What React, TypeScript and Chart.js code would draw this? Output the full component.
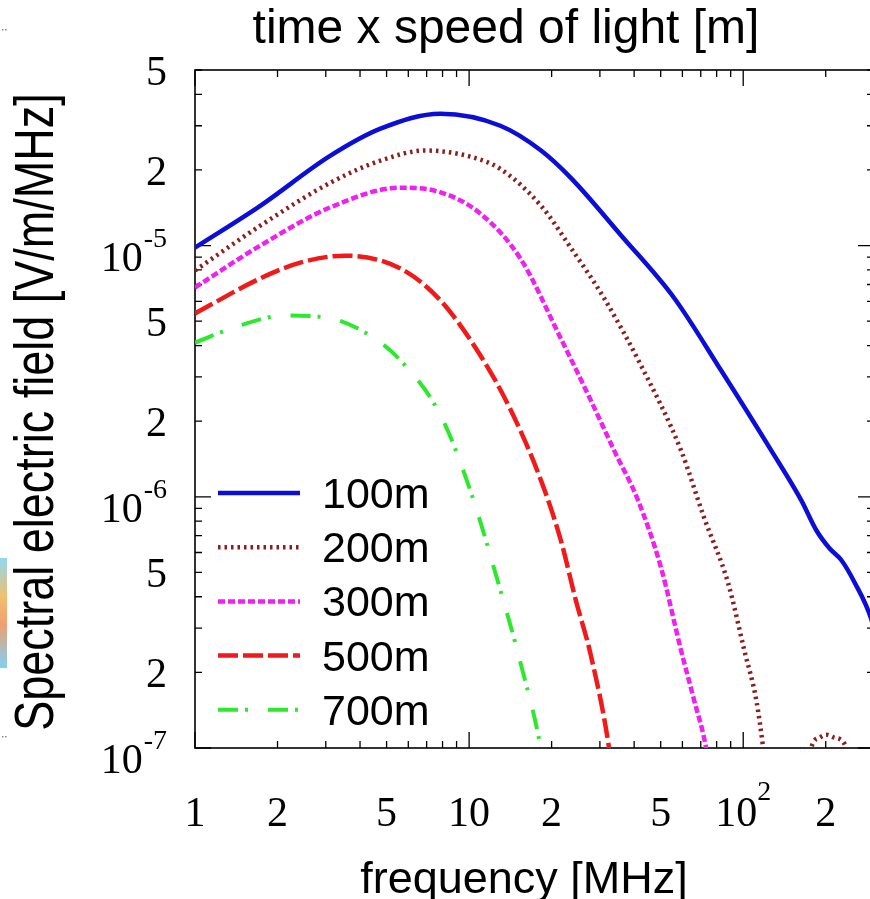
import React, { useEffect, useRef } from "react";
import { Chart, registerables } from "chart.js";

Chart.register(...registerables);

// ---- data (frequency in MHz, spectral field in V/m/MHz) ----
const freq100 = [1, 1.73, 3.12, 4.75, 7.87, 13.0, 18.3, 23.5, 35.8, 55.9, 83.1, 126.5, 162.9, 184.8, 206.3, 228.2, 254.6, 294, 300];
const field100 = [9.82e-6, 1.44e-5, 2.28e-5, 2.92e-5, 3.35e-5, 3.0e-5, 2.39e-5, 1.86e-5, 1.1e-5, 6.2e-6, 3.18e-6, 1.53e-6, 9.68e-7, 7.36e-7, 6.24e-7, 5.59e-7, 4.57e-7, 3.23e-7, 2.95e-7];

const freq200 = [1, 1.73, 3.12, 4.75, 6.93, 10.1, 13.0, 18.3, 23.5, 31.0, 42.4, 59.3, 71.9, 88.1, 100.9, 111.6, 118.3, 125, 150, 177, 190, 201, 215, 238, 260, 300];
const field200 = [7.96e-6, 1.2e-5, 1.78e-5, 2.18e-5, 2.39e-5, 2.26e-5, 2.02e-5, 1.44e-5, 9.8e-6, 6.2e-6, 3.33e-6, 1.53e-6, 8.29e-7, 4.53e-7, 2.45e-7, 1.55e-7, 1.0e-7, 6e-8, 2e-8, 1.0e-7, 1.1e-7, 1.13e-7, 1.1e-7, 1.0e-7, 4e-8, 2e-8];

const freq300 = [1, 1.73, 3.12, 5.62, 7.87, 11.0, 15.4, 21.6, 27.8, 33.8, 41.3, 50.1, 59.3, 66.2, 73.2, 80];
const field300 = [6.81e-6, 1.0e-5, 1.42e-5, 1.7e-5, 1.63e-5, 1.34e-5, 8.87e-6, 4.27e-6, 2.42e-6, 1.53e-6, 9.7e-7, 5.24e-7, 2.45e-7, 1.55e-7, 1.0e-7, 5e-8];

const freq500 = [1, 1.73, 2.42, 3.54, 5.62, 7.87, 11.0, 14.2, 18.3, 21.6, 24.5, 27.8, 32.4, 35];
const field500 = [5.37e-6, 7.4e-6, 8.55e-6, 9.12e-6, 8.1e-6, 6.04e-6, 3.65e-6, 2.21e-6, 1.16e-6, 6.72e-7, 3.88e-7, 2.34e-7, 1.0e-7, 5e-8];

const freq700 = [1, 1.46, 2.13, 3.12, 4.36, 5.62, 7.87, 10.1, 13.0, 15.4, 18.3, 19.5];
const field700 = [4.11e-6, 4.81e-6, 5.27e-6, 5.13e-6, 4.38e-6, 3.49e-6, 2.11e-6, 1.06e-6, 4.25e-7, 2.18e-7, 9.8e-8, 6e-8];

const seriesLabels = ["100m", "200m", "300m", "500m", "700m"];
const seriesColors = ["#0c0ed8", "#8a1f1f", "#f020f0", "#f01a1a", "#2ee82e"];
const seriesDashes: number[][] = [[], [2.5, 4], [7, 3], [20, 5], [20, 7, 3, 20]];
const seriesWidths = [4.5, 4.5, 4.5, 4.5, 4];

const X_MIN = 1;
const X_MAX = 300;
const Y_MIN = 1e-7;
const Y_MAX = 5e-5;

const xTickValues = [1, 2, 5, 10, 20, 50, 100, 200];
const xTickLabels = ["1", "2", "5", "10", "2", "5", "10^2", "2"];
const yTickValues = [5e-5, 2e-5, 1e-5, 5e-6, 2e-6, 1e-6, 5e-7, 2e-7, 1e-7];
const yTickLabels = ["5", "2", "10^-5", "5", "2", "10^-6", "5", "2", "10^-7"];

const titleText = "time x speed of light [m]";
const xTitle = "frequency [MHz]";
const yTitle = "Spectral electric field [V/m/MHz]";

const SERIF = "'Liberation Serif', 'Times New Roman', serif";
const SANS = "'Liberation Sans', Arial, sans-serif";

const decorPlugin = {
  id: "decor",
  beforeDatasetsDraw(chart: any) {
    const { ctx, chartArea: a, scales } = chart;
    const xs = scales.x;
    const ys = scales.y;
    ctx.save();
    ctx.strokeStyle = "#000";
    ctx.lineWidth = 1.6;
    ctx.setLineDash([]);
    ctx.strokeRect(a.left, a.top, a.right - a.left, a.bottom - a.top);
    ctx.lineWidth = 1.3;
    ctx.beginPath();
    for (let e = -7; e <= -5; e++) {
      for (let m = 1; m <= 9; m++) {
        const v = m * Math.pow(10, e);
        if (v > Y_MAX * 1.001 || v < Y_MIN * 0.999) continue;
        const y = ys.getPixelForValue(v);
        const len = m === 1 ? 16 : 7;
        ctx.moveTo(a.left, y);
        ctx.lineTo(a.left + len, y);
        ctx.moveTo(a.right, y);
        ctx.lineTo(a.right - len, y);
      }
    }
    for (let e = 0; e <= 2; e++) {
      for (let m = 1; m <= 9; m++) {
        const v = m * Math.pow(10, e);
        if (v > X_MAX * 1.001) continue;
        const x = xs.getPixelForValue(v);
        const len = m === 1 ? 16 : 7;
        ctx.moveTo(x, a.bottom);
        ctx.lineTo(x, a.bottom - len);
        ctx.moveTo(x, a.top);
        ctx.lineTo(x, a.top + len);
      }
    }
    ctx.stroke();
    ctx.restore();
  },
  afterDraw(chart: any) {
    const { ctx, scales } = chart;
    const xs = scales.x;
    const ys = scales.y;
    ctx.save();
    ctx.fillStyle = "#000";
    ctx.textBaseline = "alphabetic";
    const baseFont = "42px " + SERIF;
    const expFont = "28px " + SERIF;

    // y tick labels
    const yRight = 167;
    yTickValues.forEach((v, i) => {
      const y = ys.getPixelForValue(v);
      const lab = yTickLabels[i];
      ctx.textAlign = "right";
      if (lab.includes("^")) {
        const [base, exp] = lab.split("^");
        ctx.font = expFont;
        const ew = ctx.measureText(exp).width;
        ctx.fillText(exp, yRight, y + 1);
        ctx.font = baseFont;
        ctx.fillText(base, yRight - ew - 1, y + 25);
      } else {
        ctx.font = baseFont;
        ctx.fillText(lab, yRight, y + 15);
      }
    });

    // x tick labels
    const xBase = 826;
    xTickValues.forEach((v, i) => {
      const x = xs.getPixelForValue(v);
      const lab = xTickLabels[i];
      if (lab.includes("^")) {
        const [base, exp] = lab.split("^");
        ctx.font = baseFont;
        const bw = ctx.measureText(base).width;
        ctx.font = expFont;
        const ew = ctx.measureText(exp).width;
        const start = x - (bw + ew) / 2;
        ctx.textAlign = "left";
        ctx.font = baseFont;
        ctx.fillText(base, start, xBase);
        ctx.font = expFont;
        ctx.fillText(exp, start + bw, xBase - 26);
      } else {
        ctx.textAlign = "center";
        ctx.font = baseFont;
        ctx.fillText(lab, x, xBase);
      }
    });

    // titles
    ctx.font = "48px " + SANS;
    ctx.textAlign = "center";
    ctx.fillText(titleText, 506, 43);
    ctx.font = "45px " + SANS;
    ctx.fillText(xTitle, 524, 893);
    ctx.save();
    ctx.translate(53, 412);
    ctx.rotate(-Math.PI / 2);
    ctx.scale(1, 1.22);
    ctx.fillText(yTitle, 0, 0);
    ctx.restore();

    // legend
    const lx0 = 218;
    const lx1 = 300;
    const ly0 = 493;
    const lstep = 54.2;
    ctx.font = "43px " + SANS;
    ctx.textAlign = "left";
    seriesLabels.forEach((lab, i) => {
      const y = ly0 + i * lstep;
      ctx.save();
      ctx.strokeStyle = seriesColors[i];
      ctx.lineWidth = seriesWidths[i];
      ctx.lineCap = "butt";
      ctx.setLineDash(seriesDashes[i]);
      ctx.beginPath();
      ctx.moveTo(lx0, y);
      ctx.lineTo(lx1, y);
      ctx.stroke();
      ctx.restore();
      ctx.fillStyle = "#000";
      ctx.fillText(lab, 322, y + 15);
    });

    // fragment of the neighbouring figure at the left edge
    const g = ctx.createLinearGradient(0, 558, 0, 668);
    g.addColorStop(0, "#8fd8f0");
    g.addColorStop(0.35, "#f0c070");
    g.addColorStop(0.6, "#f0a070");
    g.addColorStop(1, "#7fd0f4");
    ctx.fillStyle = g;
    ctx.fillRect(0, 558, 7, 110);
    ctx.fillStyle = "#888";
    ctx.fillRect(2, 29, 1.5, 1.5);
    ctx.fillRect(5, 29, 1.5, 1.5);
    ctx.fillRect(2, 736, 1.5, 1.5);
    ctx.fillRect(5, 736, 1.5, 1.5);
    ctx.restore();
  },
};

function makeData(xs: number[], ys: number[]) {
  return xs.map((x, i) => ({ x, y: ys[i] }));
}

export default function App() {
  const ref = useRef<HTMLCanvasElement | null>(null);
  useEffect(() => {
    document.body.style.margin = "0";
    const allX = [freq100, freq200, freq300, freq500, freq700];
    const allY = [field100, field200, field300, field500, field700];
    const datasets = seriesLabels.map((label, i) => ({
      label,
      data: makeData(allX[i], allY[i]),
      borderColor: seriesColors[i],
      backgroundColor: seriesColors[i],
      borderWidth: seriesWidths[i],
      borderDash: seriesDashes[i],
      borderCapStyle: "butt" as const,
      pointRadius: 0,
      fill: false,
      cubicInterpolationMode: "monotone" as const,
      clip: 0,
    }));
    const chart = new Chart(ref.current as HTMLCanvasElement, {
      type: "line",
      data: { datasets },
      options: {
        responsive: false,
        animation: false,
        devicePixelRatio: 1,
        events: [],
        layout: { padding: { left: 195, top: 70, right: 6, bottom: 151 } },
        scales: {
          x: { type: "logarithmic", min: X_MIN, max: X_MAX, display: false },
          y: { type: "logarithmic", min: Y_MIN, max: Y_MAX, display: false },
        },
        plugins: {
          legend: { display: false },
          title: { display: false },
          tooltip: { enabled: false },
        },
      },
      plugins: [decorPlugin],
    } as any);
    return () => chart.destroy();
  }, []);
  return (
    <div style={{ width: 870, height: 899, overflow: "hidden", position: "relative", background: "#fff" }}>
      <canvas ref={ref} width={880} height={899} style={{ display: "block" }} />
    </div>
  );
}
